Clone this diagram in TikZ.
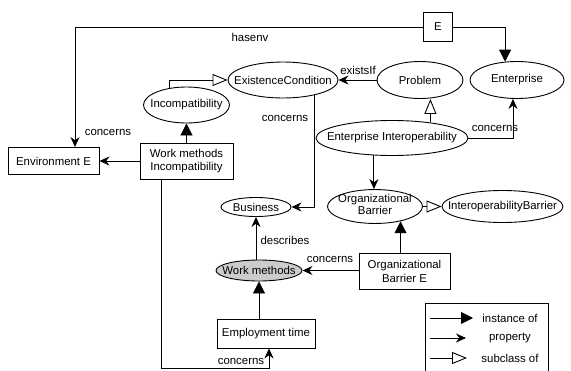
\documentclass[tikz,border=0pt]{standalone}
\usepackage{fontspec}
\setmainfont{Liberation Sans}
\usetikzlibrary{arrows.meta,shapes.geometric,calc}
\newcommand\zw[1]{\makebox[0pt]{#1}}
\begin{document}
\begin{tikzpicture}[x=1pt,y=-1pt,
  font=\fontsize{11.4}{13.5}\selectfont,
  line width=0.9pt,
  cls/.style={ellipse,draw,fill=white,inner sep=0pt,align=center},
  ind/.style={rectangle,draw,fill=white,inner sep=0pt,align=center},
  inst/.style={-{Triangle[length=12pt,width=12pt]}},
  prop/.style={-{Stealth[length=10pt,width=9pt]}},
  sub/.style={-{Triangle[open,length=15pt,width=12pt,fill=white]}},
  lbl/.style={inner sep=0pt}]
\clip (0,0) rectangle (571,370);
% nodes
\node[ind,minimum width=29pt,minimum height=29pt] (E) at (438,27) {E};
\node[cls,minimum width=110pt,minimum height=36pt] (ec) at (283,80) {\zw{ExistenceCondition}};
\node[cls,minimum width=86pt,minimum height=37pt] (prob) at (420,80) {\zw{Problem}};
\node[cls,minimum width=94pt,minimum height=37pt] (ent) at (517,80) {\zw{Enterprise}};
\node[cls,minimum width=86pt,minimum height=36pt] (inc) at (186.5,105) {\zw{Incompatibility}};
\node[ind,minimum width=93pt,minimum height=36pt] (wmi) at (186.5,161) {Work methods\\Incompatibility};
\node[ind,minimum width=91pt,minimum height=27pt] (env) at (53.5,161) {Environment E};
\node[cls,minimum width=152pt,minimum height=35pt] (ei) at (392,138) {\zw{Enterprise Interoperability}};
\node[cls,minimum width=95pt,minimum height=33pt] (ob) at (375,206.5) {\zw{\fontsize{11.4}{12}\selectfont\begin{tabular}{@{}c@{}}Organizational\\Barrier\end{tabular}}};
\node[cls,minimum width=121pt,minimum height=32pt] (ib) at (502.5,206.5) {\zw{InteroperabilityBarrier}};
\node[cls,minimum width=70pt,minimum height=19pt] (bus) at (256,207) {\zw{Business}};
\node[cls,fill=gray!40,minimum width=86pt,minimum height=21pt] (wm) at (259,270.5) {\zw{Work methods}};
\node[ind,minimum width=91pt,minimum height=36pt] (obe) at (404.5,271.5) {Organizational\\Barrier E};
\node[ind,minimum width=98pt,minimum height=29pt] (emp) at (266,333.5) {Employment time};
% connectors
\coordinate (hv) at (75,27);
\draw[prop] (E.west) -- (hv) -- (hv |- env.north);
\draw[inst] (E.east) -| (ent.123.8);
\draw[prop] (prob.west) -- (ec.east);
\draw[sub] (inc.135.8) |- (ec.west);
\draw[inst] (wmi.north) -- (inc.south);
\draw[prop] (wmi.west) -- (env.east);
\draw[prop] (ec.-26.7) |- (bus.east);
\draw[sub] (ei.22.5) -- (ei.22.5 |- prob.south);
\draw[prop] (ei.east) -| (ent.-102.3);
\draw[prop] (ei.-136.6) -- (ei.-136.6 |- ob.north);
\draw[sub] (ob.east) -- (ib.west);
\draw[inst] (obe.north -| ob.-30.7) -- (ob.-30.7);
\draw[prop] (obe.west |- wm.east) -- (wm.east);
\draw[prop] (wm.north -| bus.south) -- (bus.south);
\draw[inst] (emp.north -| wm.south) -- (wm.south);
\coordinate (lc) at (161,368);
\draw[prop] (wmi.south -| lc) -- (lc) -| ($(emp.south)+(3,0)$);
% labels
\node[lbl] (t1) at (250,37) {hasenv};
\node[lbl] (t2) at (108,132) {concerns};
\node[lbl] (t3) at (285,118) {concerns};
\node[lbl] (t4) at (358,70) {existsIf};
\node[lbl] (t5) at (495,128) {concerns};
\node[lbl] (t6) at (285,240) {describes};
\node[lbl] (t7) at (330,259) {concerns};
\node[lbl] (t8) at (241,361) {concerns};
% legend
\draw (425,303) rectangle (548,385);
\coordinate (l1a) at (430,318); \coordinate (l1b) at (473,318);
\coordinate (l2a) at (430,338); \coordinate (l2b) at (466,338);
\coordinate (l3a) at (430,358); \coordinate (l3b) at (467,358);
\draw[inst] (l1a) -- (l1b);
\draw[prop] (l2a) -- (l2b);
\draw[sub] (l3a) -- (l3b);
\node[lbl] (g1) at (510,318) {instance of};
\node[lbl] (g2) at (510,338) {property};
\node[lbl] (g3) at (510,358) {subclass of};
\end{tikzpicture}
\end{document}
